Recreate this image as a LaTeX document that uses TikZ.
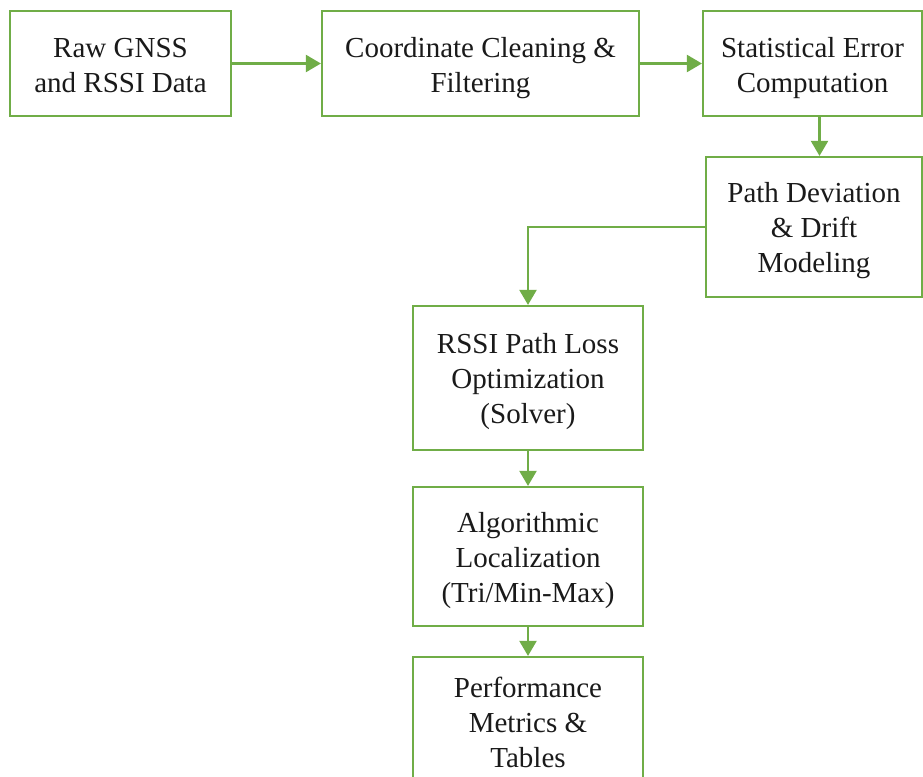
\documentclass[tikz,border=0pt]{standalone}
\usepackage{fontspec}
\setmainfont{Liberation Serif}
\usetikzlibrary{arrows.meta}
\definecolor{grn}{HTML}{70AD47}
\definecolor{txt}{HTML}{1A1A1A}
\begin{document}
\begin{tikzpicture}[x=1pt,y=-1pt,
  box/.style={draw=grn, line width=2.2pt, fill=white, inner sep=0pt},
  lbl/.style={align=center, text=txt, font=\fontsize{29}{35}\selectfont, inner sep=0pt},
  conn/.style={draw=grn, line width=2.2pt, -{Triangle[length=15pt,width=17pt]}}]
\clip (0,0) rectangle (923,776);
\fill[white] (0,0) rectangle (923,776);
\node[box, minimum width=221pt, minimum height=105pt] (b1) at (120.5,63.5) {};
\node[box, minimum width=317pt, minimum height=105pt] (b2) at (480.5,63.5) {};
\node[box, minimum width=219pt, minimum height=105pt] (b3) at (812.5,63.5) {};
\node[box, minimum width=216pt, minimum height=140pt] (b4) at (814,227) {};
\node[box, minimum width=230pt, minimum height=144pt] (b5) at (528,378) {};
\node[box, minimum width=230pt, minimum height=139pt] (b6) at (528,556.5) {};
\node[box, minimum width=230pt, minimum height=134pt] (b7) at (528,724) {};
\node[lbl] (t1) at ([yshift=-2pt]b1.center) {Raw GNSS\\and RSSI Data};
\node[lbl] (t2) at ([yshift=-5pt]b2.center) {Coordinate Cleaning \&\\Filtering};
\node[lbl] (t3) at ([yshift=-5pt]b3.center) {Statistical Error\\Computation};
\node[lbl] (t4) at ([yshift=-4pt]b4.center) {Path Deviation\\\& Drift\\Modeling};
\node[lbl] (t5) at ([yshift=-4pt]b5.center) {RSSI Path Loss\\Optimization\\(Solver)};
\node[lbl] (t6) at ([yshift=-4pt]b6.center) {Algorithmic\\Localization\\(Tri/Min-Max)};
\node[lbl] (t7) at ([yshift=2pt]b7.center) {Performance\\Metrics \&\\Tables};
\draw[conn] (b1) -- (b2);
\draw[conn] (b2) -- (b3);
\draw[conn] ([xshift=7pt]b3.south) -- ([xshift=7pt]b3.south |- b4.north);
\draw[conn] (b4.west) -| (b5.north);
\draw[conn] (b5) -- (b6);
\draw[conn] (b6) -- (b7);
\end{tikzpicture}
\end{document}
